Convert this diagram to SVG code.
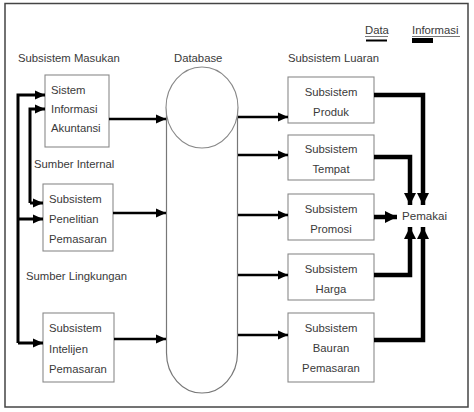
<svg xmlns="http://www.w3.org/2000/svg" width="474" height="412" viewBox="0 0 474 412">
<defs>
<style>
text{font-family:"Liberation Sans",Arial,sans-serif;font-size:11.3px;fill:#3a3a3a}
.c{text-anchor:middle}
.box{fill:#fff;stroke:#8a8a8a;stroke-width:1.1}
.data{fill:none;stroke:#000;stroke-width:2.6;marker-end:url(#ad)}
.left{fill:none;stroke:#000;stroke-width:3;stroke-linejoin:miter;marker-end:url(#al)}
.info{fill:none;stroke:#000;stroke-width:4.5;stroke-linejoin:miter;marker-end:url(#ai)}
</style>
<marker id="ad" markerUnits="userSpaceOnUse" markerWidth="10" markerHeight="10" refX="10" refY="5" orient="auto"><path d="M0,0.5 L10,5 L0,9.5 z" fill="#000"/></marker>
<marker id="al" markerUnits="userSpaceOnUse" markerWidth="10" markerHeight="10" refX="10" refY="5" orient="auto"><path d="M0,0.5 L10,5 L0,9.5 z" fill="#000"/></marker>
<marker id="ai" markerUnits="userSpaceOnUse" markerWidth="12" markerHeight="12" refX="12" refY="6" orient="auto"><path d="M0,0 L12,6 L0,12 z" fill="#000"/></marker>
</defs>
<rect x="5" y="3.5" width="463" height="403.5" fill="#fff" stroke="#444" stroke-width="1.5"/>

<g id="legend">
<text x="365" y="34">Data</text>
<line x1="365" y1="36.5" x2="388" y2="36.5" stroke="#555" stroke-width="0.8"/>
<line x1="366" y1="40.5" x2="387" y2="40.5" stroke="#000" stroke-width="2"/>
<text x="412" y="34">Informasi</text>
<line x1="412" y1="36.5" x2="460" y2="36.5" stroke="#555" stroke-width="0.8"/>
<rect x="412" y="38" width="21" height="5" fill="#000"/>
</g>

<g id="labels">
<text x="18" y="62">Subsistem Masukan</text>
<text x="174" y="62">Database</text>
<text x="288" y="62">Subsistem Luaran</text>
<text x="34" y="168">Sumber Internal</text>
<text x="26" y="280">Sumber Lingkungan</text>
</g>

<g id="sia">
<rect class="box" x="45" y="75" width="64" height="72"/>
<text x="51" y="94">Sistem</text>
<text x="51" y="113">Informasi</text>
<text x="51" y="132">Akuntansi</text>
</g>
<g id="penelitian">
<rect class="box" x="43" y="184" width="70" height="67"/>
<text x="49" y="203">Subsistem</text>
<text x="49" y="223">Penelitian</text>
<text x="49" y="243">Pemasaran</text>
</g>
<g id="intelijen">
<rect class="box" x="43" y="313" width="71" height="69"/>
<text x="49" y="332">Subsistem</text>
<text x="49" y="353">Intelijen</text>
<text x="49" y="373">Pemasaran</text>
</g>

<g id="database">
<path d="M166.5,107 V353 A35.5,40 0 0 0 237.5,353 V107" fill="#fff" stroke="#777" stroke-width="1.2"/>
<ellipse cx="202" cy="107.5" rx="36" ry="40.5" fill="#fff" stroke="#888" stroke-width="1.1"/>
</g>

<g id="produk">
<rect class="box" x="288" y="77" width="86" height="46"/>
<text class="c" x="331" y="96">Subsistem</text>
<text class="c" x="331" y="116">Produk</text>
</g>
<g id="tempat">
<rect class="box" x="288" y="135" width="86" height="45"/>
<text class="c" x="331" y="153">Subsistem</text>
<text class="c" x="331" y="173">Tempat</text>
</g>
<g id="promosi">
<rect class="box" x="288" y="194" width="86" height="46"/>
<text class="c" x="331" y="213">Subsistem</text>
<text class="c" x="331" y="233">Promosi</text>
</g>
<g id="harga">
<rect class="box" x="288" y="254" width="86" height="46"/>
<text class="c" x="331" y="273">Subsistem</text>
<text class="c" x="331" y="293">Harga</text>
</g>
<g id="bauran">
<rect class="box" x="288" y="313" width="86" height="69"/>
<text class="c" x="331" y="332">Subsistem</text>
<text class="c" x="331" y="352">Bauran</text>
<text class="c" x="331" y="372">Pemasaran</text>
</g>
<g id="pemakai">
<text x="402" y="220" style="font-size:11.6px">Pemakai</text>
</g>

<g id="connectors">
<path class="left" d="M18,343 V95 H45"/>
<path class="left" d="M18,219 H43"/>
<path class="left" d="M18,343 H43"/>
<path class="left" d="M30,203 V109 H45"/>
<path class="left" d="M30,203 H43"/>

<path class="data" d="M109,119 H166"/>
<path class="data" d="M113,213 H166"/>
<path class="data" d="M114,339 H166"/>
<path class="data" d="M238,117 H288"/>
<path class="data" d="M238,155 H288"/>
<path class="data" d="M238,215 H288"/>
<path class="data" d="M238,275 H288"/>
<path class="data" d="M238,335 H288"/>

<path class="info" d="M374,95 H423 V205"/>
<path class="info" d="M374,157 H410 V205"/>
<path class="info" d="M374,217 H397"/>
<path class="info" d="M374,275 H410 V227"/>
<path class="info" d="M374,340 H423 V227"/>
</g>
</svg>
